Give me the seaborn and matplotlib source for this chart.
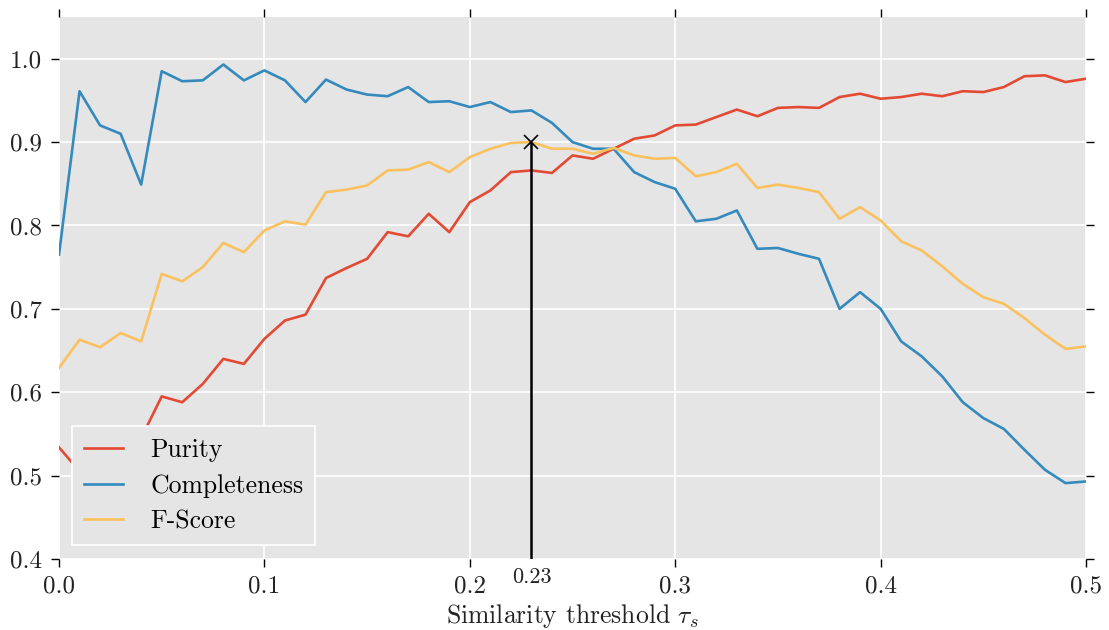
import numpy as np
import pandas as pd
import matplotlib
matplotlib.use("Agg")
import matplotlib.pyplot as plt
import matplotlib.transforms as mtransforms
import seaborn as sns

# Similarity threshold sweep
thresholds = [round(0.01 * i, 2) for i in range(51)]

purity = [0.534, 0.505, 0.520, 0.532, 0.545, 0.595, 0.588, 0.610, 0.640, 0.634,
          0.664, 0.686, 0.693, 0.737, 0.749, 0.760, 0.792, 0.787, 0.814, 0.792,
          0.828, 0.842, 0.864, 0.866, 0.863, 0.884, 0.880, 0.892, 0.904, 0.908,
          0.920, 0.921, 0.930, 0.939, 0.931, 0.941, 0.942, 0.941, 0.954, 0.958,
          0.952, 0.954, 0.958, 0.955, 0.961, 0.960, 0.966, 0.979, 0.980, 0.972,
          0.976]

completeness = [0.765, 0.961, 0.920, 0.910, 0.849, 0.985, 0.973, 0.974, 0.993, 0.974,
                0.986, 0.974, 0.948, 0.975, 0.963, 0.957, 0.955, 0.966, 0.948, 0.949,
                0.942, 0.948, 0.936, 0.938, 0.923, 0.900, 0.892, 0.892, 0.864, 0.852,
                0.844, 0.805, 0.808, 0.818, 0.772, 0.773, 0.766, 0.760, 0.700, 0.720,
                0.700, 0.661, 0.643, 0.619, 0.588, 0.569, 0.556, 0.531, 0.507, 0.491,
                0.493]

f_score = [0.629, 0.663, 0.654, 0.671, 0.661, 0.742, 0.733, 0.750, 0.779, 0.768,
           0.794, 0.805, 0.801, 0.840, 0.843, 0.848, 0.866, 0.867, 0.876, 0.864,
           0.882, 0.892, 0.899, 0.900, 0.892, 0.892, 0.886, 0.893, 0.884, 0.880,
           0.881, 0.859, 0.864, 0.874, 0.845, 0.849, 0.845, 0.840, 0.808, 0.822,
           0.806, 0.781, 0.770, 0.751, 0.730, 0.714, 0.706, 0.689, 0.669, 0.652,
           0.655]

series_names = ["Purity", "Completeness", "F-Score"]
best_threshold = 0.23
best_score = 0.900
x_ticks = [0.0, 0.1, 0.2, 0.3, 0.4, 0.5]
y_ticks = [0.4, 0.5, 0.6, 0.7, 0.8, 0.9, 1.0]

df = pd.DataFrame({
    "threshold": thresholds * 3,
    "value": purity + completeness + f_score,
    "metric": [n for n in series_names for _ in thresholds],
})

plt.style.use("ggplot")
sns.set_style({"axes.facecolor": "#E5E5E5", "grid.color": "white"})
plt.rcParams.update({
    "font.family": "serif",
    "font.serif": ["cmr10", "DejaVu Serif"],
    "mathtext.fontset": "cm",
    "axes.formatter.use_mathtext": True,
    "axes.unicode_minus": False,
})

palette = {"Purity": "#E24A33", "Completeness": "#348ABD", "F-Score": "#FBC15E"}

fig = plt.figure(figsize=(11.09, 6.30), dpi=100)
ax = fig.add_axes([0.0532, 0.1127, 0.9261, 0.8603])

sns.lineplot(data=df, x="threshold", y="value", hue="metric", palette=palette,
             hue_order=series_names, linewidth=1.9, ax=ax)

# optimal threshold marker
ax.vlines(best_threshold, 0.4, best_score, color="black", linewidth=1.8, zorder=5)
ax.plot([best_threshold], [best_score], marker="x", color="black",
        markersize=10, markeredgewidth=1.2, zorder=6)

ax.set_xlim(0, 0.5)
ax.set_ylim(0.4, 1.05)
ax.set_xticks(x_ticks)
ax.set_yticks(y_ticks)
ax.set_xticklabels([f"{v:.1f}" for v in x_ticks])
ax.set_yticklabels([f"{v:.1f}" for v in y_ticks])
ax.grid(True, color="white", linewidth=1.2)
ax.set_axisbelow(True)
for s in ax.spines.values():
    s.set_visible(False)

ax.tick_params(axis="both", which="major", direction="out", length=6, width=1,
               color="black", labelsize=18, labelcolor="#222222",
               top=True, right=True, pad=6)

trans = mtransforms.blended_transform_factory(ax.transData, ax.transAxes)
ax.text(best_threshold, -0.016, "0.23", transform=trans, ha="center", va="top",
        fontsize=16, color="#222222")

ax.set_xlabel(r"Similarity threshold $\tau_s$", fontsize=18.5, color="#222222", labelpad=3)
ax.set_ylabel("")

leg = ax.legend(loc="lower left", fontsize=18.5, frameon=True, fancybox=False,
                borderpad=0.45, handlelength=1.55, handletextpad=1.05,
                labelspacing=0.47, borderaxespad=0,
                bbox_to_anchor=(0.0127, 0.026))
leg.get_frame().set_facecolor("#E5E5E5")
leg.get_frame().set_edgecolor("white")
leg.get_frame().set_linewidth(1.2)
leg.get_frame().set_alpha(1.0)

fig.savefig("out.png", dpi=100)
